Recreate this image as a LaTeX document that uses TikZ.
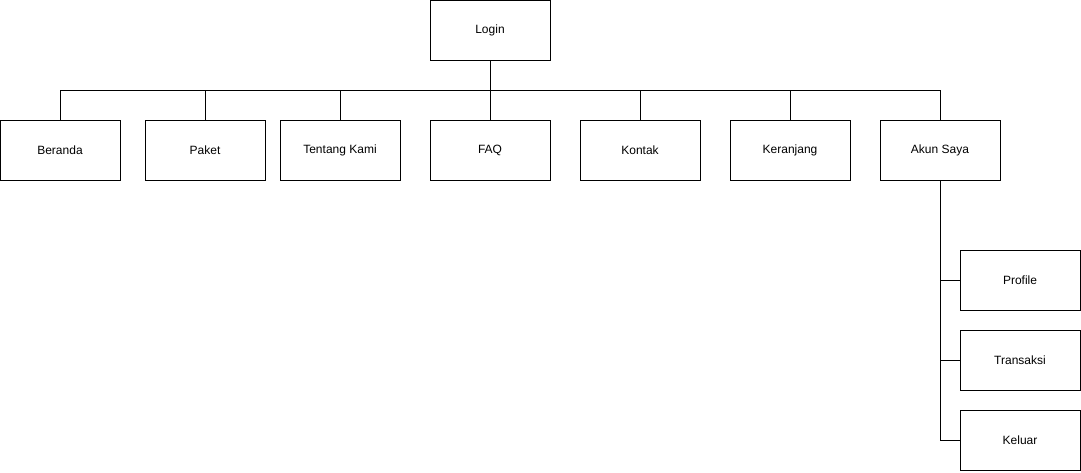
\documentclass[tikz,border=0pt]{standalone}
\usepackage{fontspec}
\setmainfont{Liberation Sans}
\usepackage{tikz}

\begin{document}
\begin{tikzpicture}[x=1pt,y=-1pt,line width=1pt,
  menu/.style={draw,rectangle,minimum width=120pt,minimum height=60pt,inner sep=0pt,font=\fontsize{12}{14}\selectfont}]
\useasboundingbox (0,0) rectangle (1081,472);
\node [menu] (login) at (490,30) {Login};
\node [menu] (beranda) at (60,150) {Beranda};
\node [menu] (paket) at (205,150) {Paket};
\node [menu] (tentang) at (340,150) {Tentang Kami};
\node [menu] (faq) at (490,150) {FAQ};
\node [menu] (kontak) at (640,150) {Kontak};
\node [menu] (keranjang) at (790,150) {Keranjang};
\node [menu] (akun) at (940,150) {Akun Saya};
\node [menu] (profile) at (1020,280) {Profile};
\node [menu] (transaksi) at (1020,360) {Transaksi};
\node [menu] (keluar) at (1020,440) {Keluar};
\coordinate (bus) at (490,90);
\draw (login) -- (bus);
\draw (beranda.north) |- (bus);
\draw (paket.north) |- (bus);
\draw (tentang.north) |- (bus);
\draw (faq.north) -- (bus);
\draw (kontak.north) |- (bus);
\draw (keranjang.north) |- (bus);
\draw (akun.north) |- (bus);
\draw (akun.south) |- (profile.west);
\draw (akun.south) |- (transaksi.west);
\draw (akun.south) |- (keluar.west);
\end{tikzpicture}
\end{document}
